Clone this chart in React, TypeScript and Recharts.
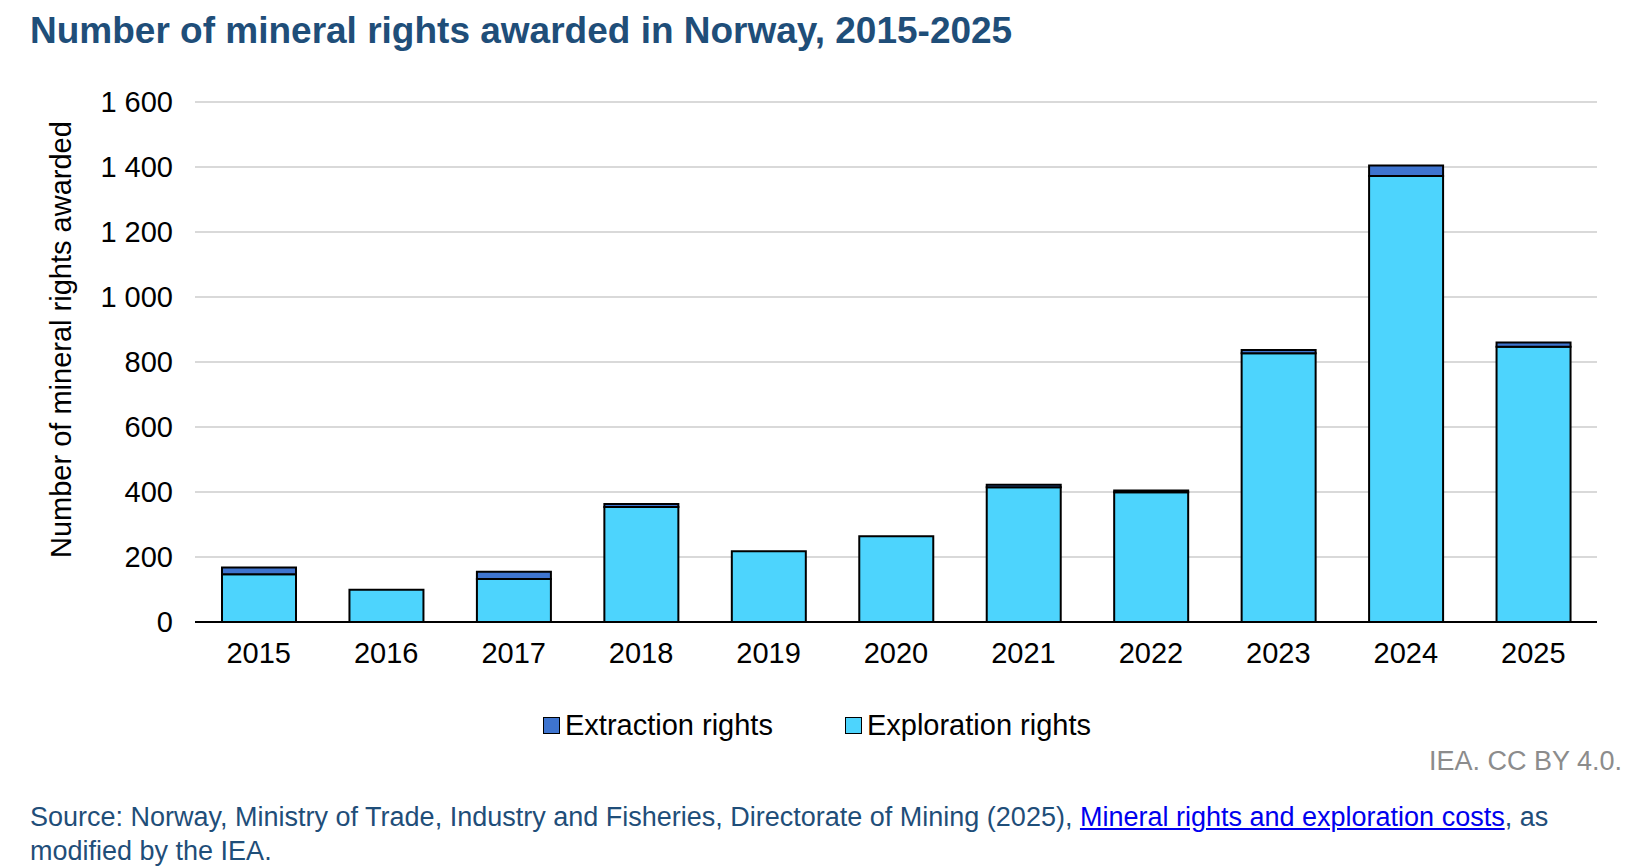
import React from 'react';
import { BarChart, Bar, XAxis, YAxis, CartesianGrid } from 'recharts';

const years = ['2015', '2016', '2017', '2018', '2019', '2020', '2021', '2022', '2023', '2024', '2025'];
const exploration = [147, 99, 132, 354, 218, 264, 415, 399, 827, 1372, 847];
const extraction = [21, 0, 23, 9, 0, 0, 7, 6, 10, 33, 13];
const yTicks = [0, 200, 400, 600, 800, 1000, 1200, 1400, 1600];

const data = years.map((year, i) => ({ year, exploration: exploration[i], extraction: extraction[i] }));

const font = '"Liberation Sans", Arial, sans-serif';
const fmt = (v: number) => String(v).replace(/\B(?=(\d{3})+(?!\d))/g, ' ');

export default function App() {
  return (
    <div style={{ position: 'absolute', left: 0, top: 0, width: 1644, height: 868, background: '#fff', fontFamily: font }}>
      <div style={{ position: 'absolute', left: 30, top: 10, fontSize: 37, fontWeight: 'bold', color: '#1f4e79' }}>
        Number of mineral rights awarded in Norway, 2015-2025
      </div>
      <div style={{ position: 'absolute', left: 0, top: 0 }}>
        <BarChart width={1644} height={672} data={data} margin={{ top: 102, right: 47, bottom: 0, left: 0 }} barSize={74}>
          <CartesianGrid vertical={false} stroke="#d9d9d9" strokeWidth={2} />
          <XAxis dataKey="year" height={50} tickLine={false} axisLine={{ stroke: '#000', strokeWidth: 2 }}
            tick={{ fontSize: 29, fill: '#000', fontFamily: font }} tickMargin={14} />
          <YAxis width={195} domain={[0, 1600]} ticks={yTicks} tickFormatter={fmt} axisLine={false} tickLine={false}
            tick={{ fontSize: 29, fill: '#000', fontFamily: font }} tickMargin={16}
            label={{ value: 'Number of mineral rights awarded', angle: -90, position: 'insideLeft', dx: 56, dy: 196, style: { fontSize: 29, fill: '#000', fontFamily: font } }} />
          <Bar dataKey="exploration" stackId="a" fill="#4dd4fd" stroke="#000" strokeWidth={2} isAnimationActive={false} />
          <Bar dataKey="extraction" stackId="a" fill="#3e74cf" stroke="#000" strokeWidth={2} isAnimationActive={false} />
        </BarChart>
      </div>
      <div style={{ position: 'absolute', top: 709, left: 543, display: 'flex', alignItems: 'center', fontSize: 29, color: '#000' }}>
        <span style={{ width: 15, height: 15, background: '#3e74cf', border: '1px solid #000', marginRight: 5 }} />
        <span style={{ marginRight: 72 }}>Extraction rights</span>
        <span style={{ width: 15, height: 15, background: '#4dd4fd', border: '1px solid #000', marginRight: 5 }} />
        <span>Exploration rights</span>
      </div>
      <div style={{ position: 'absolute', right: 22, top: 746, fontSize: 27, color: '#8c8c8c' }}>IEA. CC BY 4.0.</div>
      <div style={{ position: 'absolute', left: 30, top: 800, width: 1535, fontSize: 27, lineHeight: '34px', color: '#1f4e79' }}>
        Source: Norway, Ministry of Trade, Industry and Fisheries, Directorate of Mining (2025),{' '}
        <span style={{ color: '#0000ee', textDecoration: 'underline' }}>Mineral rights and exploration costs</span>, as modified by the IEA.
      </div>
    </div>
  );
}
